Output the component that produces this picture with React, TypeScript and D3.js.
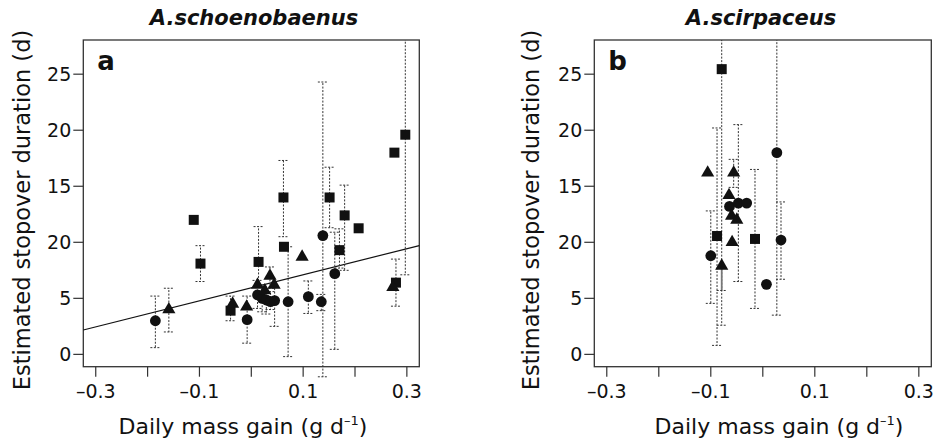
import React from "react";
import * as d3 from "d3";

type Pt = [number, number, number | null, number | null]; // x, y, lower, upper

const X_TICKS = [-0.3, -0.2, -0.1, 0, 0.1, 0.2, 0.3];
const X_TICK_LABELS = ["–0.3", "", "–0.1", "", "0.1", "", "0.3"];
const Y_TICKS = [0, 5, 10, 15, 20, 25];
const Y_TICK_LABELS = ["0", "5", "20", "15", "20", "25"];

const A_TITLE = "A.schoenobaenus";
const B_TITLE = "A.scirpaceus";

const aSquares: Pt[] = [
  [-0.111, 12.0, null, null],
  [-0.098, 8.1, 6.5, 9.7],
  [-0.04, 3.9, 3.0, 5.2],
  [0.014, 8.25, 6.0, 11.4],
  [0.062, 14.0, 10.5, 17.3],
  [0.063, 9.6, null, null],
  [0.151, 14.0, 11.3, 16.7],
  [0.18, 12.4, 7.5, 15.1],
  [0.207, 11.25, null, null],
  [0.17, 9.3, 7.7, 11.2],
  [0.276, 18.0, null, null],
  [0.297, 19.6, 7.1, 30],
  [0.279, 6.4, 4.3, 8.5],
];
const aCircles: Pt[] = [
  [-0.185, 3.0, 0.6, 5.2],
  [-0.008, 3.1, 1.0, 5.2],
  [0.012, 5.3, 4.1, 6.6],
  [0.021, 5.0, 3.8, 6.2],
  [0.029, 4.85, 3.6, 6.0],
  [0.037, 4.7, 4.0, 5.6],
  [0.045, 4.8, 2.5, 6.1],
  [0.071, 4.7, -0.2, 9.6],
  [0.11, 5.15, 3.65, 6.55],
  [0.135, 4.7, 3.9, 5.35],
  [0.138, 10.6, -2.0, 24.3],
  [0.161, 7.2, 0.45, 10.9],
];
const aTriangles: Pt[] = [
  [-0.159, 4.0, 2.0, 5.9],
  [-0.036, 4.5, null, null],
  [-0.009, 4.25, null, null],
  [0.012, 6.2, null, null],
  [0.026, 5.7, null, null],
  [0.036, 7.0, 5.9, 7.8],
  [0.044, 6.2, null, null],
  [0.098, 8.7, null, null],
  [0.273, 6.0, null, null],
];
const aRegression = { intercept: 5.94, slope: 11.63 };

const bSquares: Pt[] = [
  [-0.079, 25.45, 2.6, 30],
  [-0.088, 10.56, 0.8, 20.2],
  [-0.015, 10.3, 4.1, 16.5],
];
const bCircles: Pt[] = [
  [-0.1, 8.8, 4.55, 12.8],
  [-0.064, 13.2, null, null],
  [-0.047, 13.5, 6.5, 20.5],
  [-0.031, 13.5, null, null],
  [0.027, 18.0, 3.5, 30],
  [0.035, 10.2, 6.7, 13.6],
  [0.007, 6.25, null, null],
];
const bTriangles: Pt[] = [
  [-0.106, 16.2, null, null],
  [-0.056, 16.2, 14.9, 17.4],
  [-0.065, 14.2, null, null],
  [-0.06, 12.35, null, null],
  [-0.05, 12.0, null, null],
  [-0.059, 10.0, null, null],
  [-0.079, 7.9, null, null],
];
const bSolidBars: [number, number, number][] = [[-0.079, 5.7, 7.9]];

const X_DOMAIN: [number, number] = [-0.324, 0.324];
const Y_DOMAIN: [number, number] = [-1.1, 28.05];

const FONT = "'DejaVu Sans', sans-serif";
const INK = "#111";

interface PanelProps {
  left: number;
  width: number;
  letter: string;
  title: string;
  titleX: number;
  xLabelX: number;
  yLabelX: number;
  squares: Pt[];
  circles: Pt[];
  triangles: Pt[];
  regression?: { intercept: number; slope: number };
  solidBars?: [number, number, number][];
}

function Panel(p: PanelProps) {
  const top = 40;
  const height = 326.7;
  const x = d3.scaleLinear().domain(X_DOMAIN).range([p.left, p.left + p.width]);
  const y = d3.scaleLinear().domain(Y_DOMAIN).range([top + height, top]);
  const all = [...p.squares, ...p.circles, ...p.triangles];
  const capW = 5;
  const dash = "2,1.5";
  const tri = d3.symbol().type(d3.symbolTriangle).size(75)();
  const line = d3.line<number>().x((v) => x(v)).y((v) => y(p.regression!.intercept + p.regression!.slope * v));

  return (
    <g>
      {/* title */}
      <text x={p.titleX} y={25} textAnchor="middle" fontFamily={FONT} fontWeight="bold" fontStyle="italic" fontSize={21} fill={INK}>
        {p.title}
      </text>
      {/* frame */}
      <rect x={p.left} y={top} width={p.width} height={height} fill="none" stroke="#333" strokeWidth={1.3} />
      {/* y ticks */}
      {Y_TICKS.map((t, i) => (
        <g key={"y" + i}>
          <line x1={p.left - 10} x2={p.left} y1={y(t)} y2={y(t)} stroke="#333" strokeWidth={1.2} />
          <text x={p.left - 12} y={y(t)} dy="0.36em" textAnchor="end" fontFamily={FONT} fontSize={19} fill={INK}>
            {Y_TICK_LABELS[i]}
          </text>
        </g>
      ))}
      {/* x ticks */}
      {X_TICKS.map((t, i) => (
        <g key={"x" + i}>
          <line x1={x(t)} x2={x(t)} y1={top + height} y2={top + height + 10} stroke="#333" strokeWidth={1.2} />
          {X_TICK_LABELS[i] && (
            <text x={x(t)} y={398} textAnchor="middle" fontFamily={FONT} fontSize={19} fill={INK}>
              {X_TICK_LABELS[i]}
            </text>
          )}
        </g>
      ))}
      {/* axis labels */}
      <text x={p.xLabelX} y={434} textAnchor="middle" fontFamily={FONT} fontSize={22} fill={INK}>
        Daily mass gain (g d
        <tspan fontSize={13} dy={-9}>–1</tspan>
        <tspan dy={9}>)</tspan>
      </text>
      <text
        transform={`translate(${p.yLabelX},210) rotate(-90)`}
        textAnchor="middle"
        fontFamily={FONT}
        fontSize={22.5}
        fill={INK}
      >
        Estimated stopover duration (d)
      </text>
      {/* panel letter */}
      <text x={p.left + 14} y={70} fontFamily={FONT} fontWeight="bold" fontSize={26} fill={INK}>
        {p.letter}
      </text>
      {/* regression */}
      {p.regression && (
        <path d={line(X_DOMAIN) || ""} fill="none" stroke={INK} strokeWidth={1.2} />
      )}
      {/* error bars */}
      {all.map((d, i) => {
        const lo = d[2];
        const hi = d[3];
        const cx = x(d[0]);
        const els: React.ReactNode[] = [];
        if (hi !== null) {
          const yh = Math.max(y(Math.min(hi, Y_DOMAIN[1])), top);
          els.push(<line key="u" x1={cx} x2={cx} y1={y(d[1])} y2={yh} stroke="#333" strokeWidth={1} strokeDasharray={dash} />);
          if (hi < Y_DOMAIN[1]) els.push(<line key="uc" x1={cx - capW} x2={cx + capW} y1={yh} y2={yh} stroke="#333" strokeWidth={1} strokeDasharray={dash} />);
        }
        if (lo !== null) {
          const yl = y(lo);
          els.push(<line key="l" x1={cx} x2={cx} y1={y(d[1])} y2={yl} stroke="#333" strokeWidth={1} strokeDasharray={dash} />);
          els.push(<line key="lc" x1={cx - capW} x2={cx + capW} y1={yl} y2={yl} stroke="#333" strokeWidth={1} strokeDasharray={dash} />);
        }
        return <g key={"e" + i}>{els}</g>;
      })}
      {(p.solidBars || []).map((b, i) => (
        <g key={"s" + i}>
          <line x1={x(b[0])} x2={x(b[0])} y1={y(b[1])} y2={y(b[2])} stroke="#777" strokeWidth={1.8} />
          <line x1={x(b[0]) - capW} x2={x(b[0]) + capW} y1={y(b[1])} y2={y(b[1])} stroke="#333" strokeWidth={1} strokeDasharray={dash} />
        </g>
      ))}
      {/* markers */}
      {p.squares.map((d, i) => (
        <rect key={"sq" + i} x={x(d[0]) - 5} y={y(d[1]) - 5} width={10} height={10} fill={INK} />
      ))}
      {p.circles.map((d, i) => (
        <circle key={"c" + i} cx={x(d[0])} cy={y(d[1])} r={5.4} fill={INK} />
      ))}
      {p.triangles.map((d, i) => (
        <path key={"t" + i} d={tri || ""} transform={`translate(${x(d[0])},${y(d[1])})`} fill={INK} />
      ))}
    </g>
  );
}

export default function App() {
  return (
    <svg
      width={936}
      height={445}
      viewBox="0 0 936 445"
      style={{ position: "absolute", left: 0, top: 0, background: "#fff", display: "block" }}
    >
      <rect x={0} y={0} width={936} height={445} fill="#fff" />
      <Panel
        left={83.3}
        width={336}
        letter="a"
        title={A_TITLE}
        titleX={254}
        xLabelX={243}
        yLabelX={30}
        squares={aSquares}
        circles={aCircles}
        triangles={aTriangles}
        regression={aRegression}
      />
      <Panel
        left={594.3}
        width={337}
        letter="b"
        title={B_TITLE}
        titleX={761}
        xLabelX={779}
        yLabelX={538.5}
        squares={bSquares}
        circles={bCircles}
        triangles={bTriangles}
        solidBars={bSolidBars}
      />
    </svg>
  );
}
